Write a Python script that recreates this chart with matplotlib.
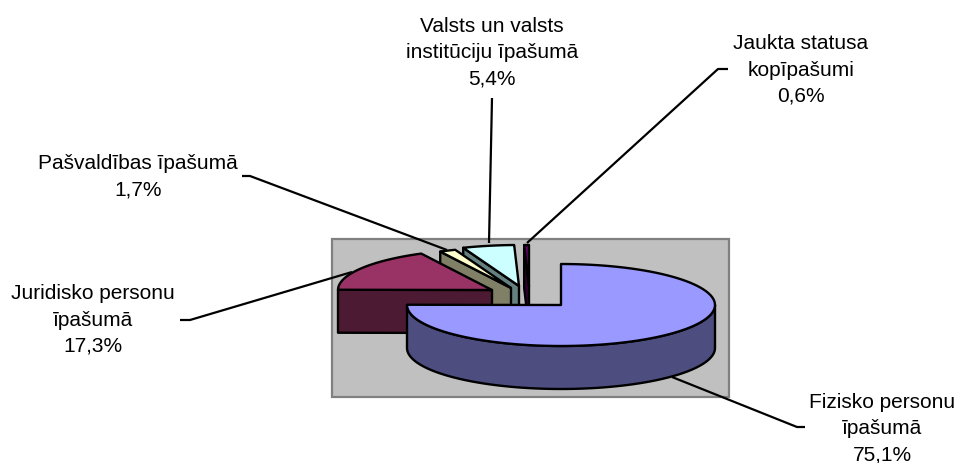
import numpy as np
import matplotlib
matplotlib.use('Agg')
from matplotlib import pyplot as plt
from matplotlib.patches import Polygon, Rectangle

plt.rcParams['font.family'] = ['Liberation Sans', 'DejaVu Sans']

categories = ['Fizisko personu\nīpašumā', 'Juridisko personu\nīpašumā', 'Pašvaldības īpašumā',
              'Valsts un valsts\ninstitūciju īpašumā', 'Jaukta statusa\nkopīpašumi']
shares = [75.1, 17.3, 1.7, 5.4, 0.6]

top_colors = ['#9999FF', '#993366', '#FFFFCC', '#CCFFFF', '#660066']
side_colors = ['#4D4D80', '#4D1A33', '#808066', '#668080', '#330033']

# layout in pixels of the 960x463 picture
centers = [(561, 305), (492, 290), (511, 288), (519, 286), (529, 286)]
label_pos = [(882, 429), (93, 320), (138, 177), (492, 53), (801, 70)]
leaders = [[(672, 377), (797, 427), (805, 427)],
           [(352, 272), (190, 320), (180, 320)],
           [(447, 250), (250, 176), (242, 176)],
           [(489, 243), (492, 98)],
           [(527, 243), (718, 69), (728, 69)]]
RX, RY, DEPTH = 154, 41, 43

fig = plt.figure(figsize=(9.6, 4.63), dpi=100)
ax = fig.add_axes([0, 0, 1, 1])
ax.set_xlim(0, 960)
ax.set_ylim(463, 0)
ax.axis('off')

ax.add_patch(Rectangle((332, 239), 397, 158, facecolor='#C0C0C0', edgecolor='#808080', lw=1.6, zorder=1))


def ring(cx, cy, a0, a1):
    t = np.radians(np.linspace(a0, a1, 100))
    return np.column_stack([cx + RX * np.sin(t), cy - RY * np.cos(t)])


# slices run clockwise from 12 o'clock
ends = np.cumsum(shares) * 3.6
starts = np.concatenate([[0], ends[:-1]])
drop = np.array([0, DEPTH])
z = 2
for i in [4, 3, 2, 1, 0]:
    cx, cy = centers[i]
    a0, a1 = starts[i], min(ends[i], 360)
    style = dict(facecolor=side_colors[i], edgecolor='black', lw=1.7, joinstyle='round')
    # radial cut that faces the viewer
    p = ring(cx, cy, a0, a0)[0]
    if i > 0:
        quad = [(cx, cy), p, p + drop, (cx + drop[0], cy + drop[1])]
        ax.add_patch(Polygon(quad, closed=True, zorder=z, **style))
    # outer wall, front half only
    f0, f1 = max(a0, 90), min(a1, 270)
    if f1 > f0:
        arc = ring(cx, cy, f0, f1)
        ax.add_patch(Polygon(np.vstack([arc, arc[::-1] + drop]), closed=True, zorder=z, **style))
    top = np.vstack([[(cx, cy)], ring(cx, cy, a0, a1)])
    ax.add_patch(Polygon(top, closed=True, facecolor=top_colors[i], edgecolor='black', lw=1.7,
                         joinstyle='round', zorder=z + 0.5))
    z += 1

for pts in leaders:
    xs, ys = zip(*pts)
    ax.plot(xs, ys, color='black', lw=1.6, zorder=20, solid_capstyle='butt')

for name, share, (x, y) in zip(categories, shares, label_pos):
    txt = name + '\n' + ('%.1f%%' % share).replace('.', ',')
    ax.text(x, y, txt, ha='center', va='center', fontsize=15, linespacing=1.47, color='black', zorder=21)

fig.savefig('out.png', dpi=100, facecolor='white')
